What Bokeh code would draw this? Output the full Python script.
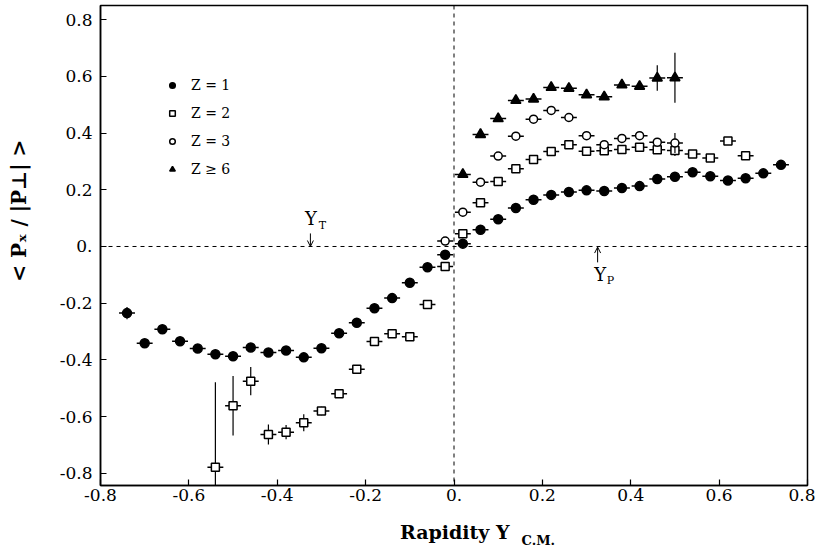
from bokeh.plotting import figure
from bokeh.models import (Span, Label, Arrow, OpenHead, Legend, LegendItem,
                          FixedTicker, CustomJSTickFormatter, ColumnDataSource, Div)
from bokeh.layouts import column
from bokeh.embed import file_html
from bokeh.resources import INLINE

# ---------------- data ----------------
z1_x = [-0.74, -0.70, -0.66, -0.62, -0.58, -0.54, -0.50, -0.46, -0.42, -0.38,
        -0.34, -0.30, -0.26, -0.22, -0.18, -0.14, -0.10, -0.06, -0.02,
        0.02, 0.06, 0.10, 0.14, 0.18, 0.22, 0.26, 0.30, 0.34, 0.38,
        0.42, 0.46, 0.50, 0.54, 0.58, 0.62, 0.66, 0.70, 0.74]
z1_y = [-0.235, -0.341, -0.292, -0.334, -0.360, -0.380, -0.387, -0.356, -0.374, -0.367,
        -0.391, -0.359, -0.306, -0.269, -0.218, -0.182, -0.128, -0.073, -0.029,
        0.010, 0.059, 0.096, 0.136, 0.165, 0.182, 0.192, 0.198, 0.196, 0.206,
        0.213, 0.238, 0.246, 0.262, 0.248, 0.233, 0.241, 0.258, 0.288]
z1_err = [0.022] + [0.008] * 37

z2_x = [-0.54, -0.50, -0.46, -0.42, -0.38, -0.34, -0.30, -0.26, -0.22, -0.18,
        -0.14, -0.10, -0.06, -0.02,
        0.02, 0.06, 0.10, 0.14, 0.18, 0.22, 0.26, 0.30, 0.34, 0.38,
        0.42, 0.46, 0.50, 0.54, 0.58, 0.62, 0.66]
z2_y = [-0.779, -0.562, -0.475, -0.663, -0.655, -0.622, -0.580, -0.519, -0.433, -0.335,
        -0.308, -0.318, -0.205, -0.071,
        0.045, 0.154, 0.229, 0.274, 0.307, 0.335, 0.359, 0.336, 0.338, 0.342,
        0.350, 0.341, 0.339, 0.326, 0.312, 0.372, 0.320]
z2_err = [0.30, 0.105, 0.05, 0.035, 0.025, 0.03, 0.015, 0.01, 0.01, 0.01,
          0.01, 0.01, 0.01, 0.01,
          0.01, 0.01, 0.01, 0.01, 0.01, 0.01, 0.01, 0.01, 0.01, 0.01,
          0.01, 0.01, 0.02, 0.01, 0.01, 0.01, 0.01]

z3_x = [-0.02, 0.02, 0.06, 0.10, 0.14, 0.18, 0.22, 0.26, 0.30, 0.34,
        0.38, 0.42, 0.46, 0.50]
z3_y = [0.019, 0.121, 0.227, 0.319, 0.389, 0.449, 0.480, 0.455, 0.391, 0.359,
        0.381, 0.391, 0.368, 0.365]
z3_err = [0.01] * 13 + [0.035]

z6_x = [0.02, 0.06, 0.10, 0.14, 0.18, 0.22, 0.26, 0.30, 0.34, 0.38,
        0.42, 0.46, 0.50]
z6_y = [0.254, 0.395, 0.451, 0.515, 0.520, 0.561, 0.558, 0.535, 0.528, 0.570,
        0.565, 0.594, 0.595]
z6_err = [0.01] * 11 + [0.045, 0.088]

x_half_width = 0.018
tick_values = [-0.8, -0.6, -0.4, -0.2, 0.0, 0.2, 0.4, 0.6, 0.8]
legend_labels = ["Z = 1", "Z = 2", "Z = 3", "Z \u2265 6"]
y_label = "< P\u2093 / |P\u22a5| >"
x_label_main = "Rapidity Y"
x_label_sub = "C.M."

SERIF = "DejaVu Serif"

# ---------------- figure ----------------
p = figure(frame_width=707, frame_height=480,
           x_range=(-0.8, 0.8), y_range=(-0.843, 0.850),
           min_border_left=100, min_border_right=8, min_border_top=5,
           min_border_bottom=25,
           output_backend="svg", toolbar_location=None)

p.xgrid.visible = False
p.ygrid.visible = False
p.outline_line_color = "black"
p.outline_line_width = 1.5
p.background_fill_color = "white"
p.border_fill_color = "white"

fmt = CustomJSTickFormatter(code="return Math.abs(tick) < 1e-9 ? '0.' : tick.toFixed(1);")
for ax in (p.xaxis[0], p.yaxis[0]):
    ax.ticker = FixedTicker(ticks=tick_values)
    ax.formatter = fmt
    ax.major_tick_in = 6
    ax.major_tick_out = 0
    ax.minor_tick_line_color = None
    ax.axis_line_width = 1.5
    ax.major_tick_line_width = 1.2
    ax.major_label_text_font = SERIF
    ax.major_label_text_font_size = "17px"
    ax.major_label_text_color = "black"
p.xaxis.major_label_standoff = 3
p.yaxis.major_label_standoff = 8

# y label: leading no-break spaces shift the visible text upward like the reference
p.yaxis.axis_label = "\u00a0" * 10 + y_label
p.yaxis.axis_label_text_font = SERIF
p.yaxis.axis_label_text_font_style = "bold"
p.yaxis.axis_label_text_font_size = "20px"
p.yaxis.axis_label_text_color = "black"
p.yaxis.axis_label_standoff = 26

# reference dashed lines
p.add_layout(Span(location=0, dimension="width", line_color="black",
                  line_width=1, line_dash="4 4"))
p.add_layout(Span(location=0, dimension="height", line_color="black",
                  line_width=1, line_dash="4 4"))


def series(xs, ys, errs, marker, size, fill):
    src = ColumnDataSource(dict(
        x=xs, y=ys,
        xl=[x - x_half_width for x in xs], xr=[x + x_half_width for x in xs],
        yl=[y - e for y, e in zip(ys, errs)], yh=[y + e for y, e in zip(ys, errs)]))
    p.segment(x0="xl", y0="y", x1="xr", y1="y", source=src,
              line_color="black", line_width=1.5)
    p.segment(x0="x", y0="yl", x1="x", y1="yh", source=src,
              line_color="black", line_width=1.2)
    return p.scatter(x="x", y="y", source=src, marker=marker, size=size,
                     fill_color=fill, line_color="black", line_width=1.5)


r1 = series(z1_x, z1_y, z1_err, "circle", 9, "black")
r2 = series(z2_x, z2_y, z2_err, "square", 8, "white")
r3 = series(z3_x, z3_y, z3_err, "circle", 8, "white")
r6 = series(z6_x, z6_y, z6_err, "triangle", 10, "black")

legend = Legend(items=[LegendItem(label=lab, renderers=[r])
                       for lab, r in zip(legend_labels, [r1, r2, r3, r6])],
                location=(65, 302), border_line_color=None,
                background_fill_alpha=0, padding=0, margin=0, spacing=0,
                glyph_width=14, glyph_height=28, label_height=28,
                label_standoff=12, label_text_font=SERIF,
                label_text_font_size="14px", label_text_color="black",
                label_text_baseline="middle")
p.add_layout(legend)

# Y_T and Y_P markers
p.add_layout(Arrow(end=OpenHead(size=6, line_width=1), x_start=-0.325, y_start=0.046,
                   x_end=-0.325, y_end=0.0, line_width=1, line_color="black"))
p.add_layout(Label(x=-0.324, y=0.10, text="Y", text_font=SERIF, text_font_size="18px",
                   text_color="black", text_align="center", text_baseline="middle"))
p.add_layout(Label(x=-0.298, y=0.074, text="T", text_font=SERIF, text_font_size="11px",
                   text_color="black", text_align="center", text_baseline="middle"))
p.add_layout(Arrow(end=OpenHead(size=6, line_width=1), x_start=0.325, y_start=-0.056,
                   x_end=0.325, y_end=-0.002, line_width=1, line_color="black"))
p.add_layout(Label(x=0.331, y=-0.10, text="Y", text_font=SERIF, text_font_size="18px",
                   text_color="black", text_align="center", text_baseline="middle"))
p.add_layout(Label(x=0.354, y=-0.12, text="P", text_font=SERIF, text_font_size="11px",
                   text_color="black", text_align="center", text_baseline="middle"))

xlabel = Div(
    text=('<div style="padding-left:400px; padding-top:9px; font-family:\'DejaVu Serif\';'
          ' font-weight:bold; font-size:19px; color:black; white-space:nowrap;">'
          + x_label_main +
          '<span style="font-size:13px; margin-left:12px; position:relative; top:6px;">'
          + x_label_sub + '</span></div>'),
    width=815, height=38, margin=(0, 0, 0, 0))

layout = column(p, xlabel, spacing=0)

open("out.html", "w").write(file_html(layout, INLINE))
